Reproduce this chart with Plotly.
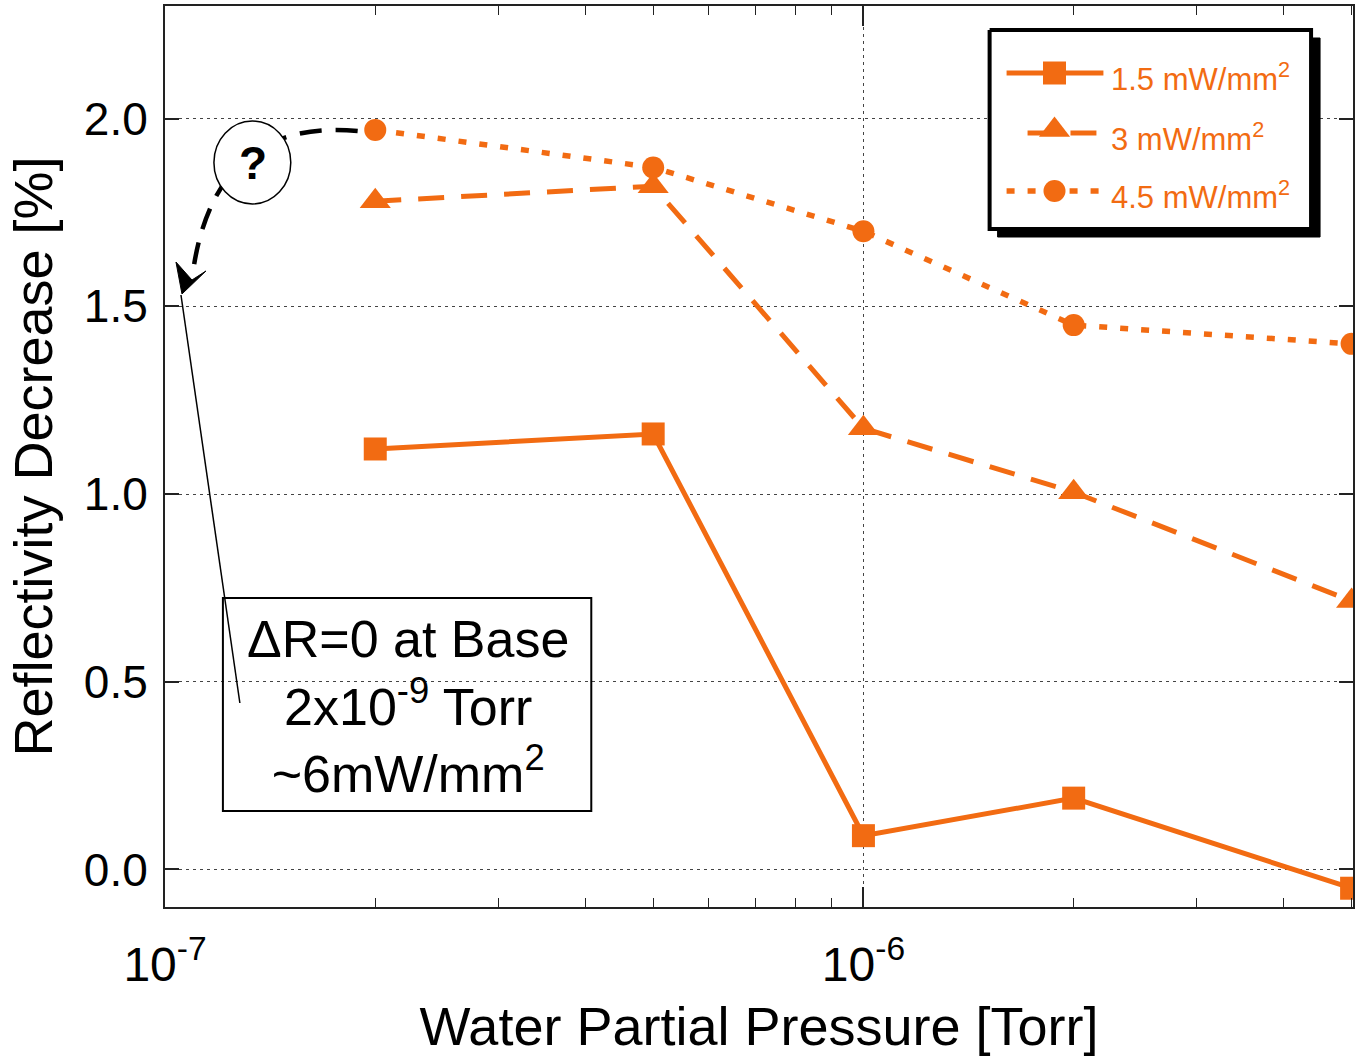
import math
import plotly.graph_objects as go

# ---------------- data ----------------
pressure = [2e-7, 5e-7, 1e-6, 2e-6, 5e-6]            # Torr
r_15 = [1.12, 1.16, 0.09, 0.19, -0.05]               # 1.5 mW/mm^2
r_30 = [1.78, 1.82, 1.175, 1.005, 0.715]             # 3 mW/mm^2
r_45 = [1.97, 1.87, 1.70, 1.45, 1.40]                # 4.5 mW/mm^2
series_names = ["1.5 mW/mm<sup>2</sup>", "3 mW/mm<sup>2</sup>", "4.5 mW/mm<sup>2</sup>"]
x_major = [1e-7, 1e-6]
x_major_text = ["10<sup>-7</sup>", "10<sup>-6</sup>"]
x_minor = [2e-7, 3e-7, 4e-7, 5e-7, 6e-7, 7e-7, 8e-7, 9e-7, 2e-6, 3e-6, 4e-6, 5e-6]
y_ticks = [0.0, 0.5, 1.0, 1.5, 2.0]
y_tick_text = ["0.0", "0.5", "1.0", "1.5", "2.0"]

ORANGE = "#F26B12"
NARROW = "Liberation Sans Narrow, Arial Narrow, Liberation Sans, Arial"
SANS = "Liberation Sans, Arial"

# plot-area pixel geometry (for placing decorations in paper units)
X0, X1, Y0, Y1 = 165, 1355, 907, 6
def px(x):
    return (x - X0) / (X1 - X0)
def py(y):
    return (Y0 - y) / (Y0 - Y1)

styles = [
    dict(dash="solid", symbol="square", size=23, width=5),
    dict(dash="26px,17px", symbol="triangle-up", size=27, width=5),
    dict(dash="8px,13px", symbol="circle", size=22, width=5.5),
]

fig = go.Figure()
for vals, name, st in zip([r_15, r_30, r_45], series_names, styles):
    fig.add_trace(go.Scatter(
        x=pressure, y=vals, name=name, mode="lines+markers",
        line=dict(color=ORANGE, width=st["width"], dash=st["dash"]),
        marker=dict(color=ORANGE, size=st["size"], symbol=st["symbol"], line=dict(width=0)),
        showlegend=False,
    ))

# ---------------- custom legend box (overlay axes in paper units) ----------------
def box(x0, x1, y0, y1):
    return [px(x0), px(x1), px(x1), px(x0), px(x0)], [py(y0), py(y0), py(y1), py(y1), py(y0)]

sx, sy = box(999, 1322, 38, 237)
fig.add_trace(go.Scatter(x=sx, y=sy, xaxis="x2", yaxis="y2", mode="lines", fill="toself",
                         fillcolor="black", line=dict(color="black", width=1),
                         showlegend=False, hoverinfo="skip"))
bx, by = box(991, 1313, 30, 229)
fig.add_trace(go.Scatter(x=bx, y=by, xaxis="x2", yaxis="y2", mode="lines", fill="toself",
                         fillcolor="white", line=dict(color="black", width=4),
                         showlegend=False, hoverinfo="skip"))

rows_y = [73, 133, 191]
seg_x = [[1008, 1105], [1029, 1048, None, 1072, 1098], [1008, 1103]]
for i, st in enumerate(styles):
    xs = [px(v) if v is not None else None for v in seg_x[i]]
    ys = [py(rows_y[i]) if v is not None else None for v in seg_x[i]]
    fig.add_trace(go.Scatter(
        x=xs, y=ys, xaxis="x2", yaxis="y2", mode="lines", showlegend=False,
        line=dict(color=ORANGE, width=st["width"], dash="solid" if i == 1 else st["dash"]),
        hoverinfo="skip",
    ))
    fig.add_trace(go.Scatter(
        x=[px(1056)], y=[py(rows_y[i] - (3 if i == 1 else 0))], xaxis="x2", yaxis="y2",
        mode="markers", showlegend=False,
        marker=dict(color=ORANGE, size=st["size"], symbol=st["symbol"], line=dict(width=0)),
        hoverinfo="skip",
    ))

shapes = []
# dashed curved arrow
curve = "M {:.5f},{:.5f} Q {:.5f},{:.5f} {:.5f},{:.5f}".format(
    px(358), py(131), px(215), py(118), px(193), py(272))
shapes.append(dict(type="path", xref="paper", yref="paper", path=curve,
                   line=dict(color="black", width=4.5, dash="22px,14px"), layer="above"))
# arrowhead
head = "M {:.5f},{:.5f} L {:.5f},{:.5f} L {:.5f},{:.5f} L {:.5f},{:.5f} Z".format(
    px(182), py(294), px(176), py(262), px(192), py(280), px(206), py(271))
shapes.append(dict(type="path", xref="paper", yref="paper", path=head,
                   fillcolor="black", line=dict(color="black", width=1), layer="above"))
# "?" ellipse
shapes.append(dict(type="circle", xref="paper", yref="paper",
                   x0=px(214), x1=px(291), y0=py(121), y1=py(204),
                   fillcolor="white", line=dict(color="black", width=1.5), layer="above"))
# thin pointer line
shapes.append(dict(type="line", xref="paper", yref="paper",
                   x0=px(181), y0=py(295), x1=px(240), y1=py(703),
                   line=dict(color="black", width=1.5), layer="above"))
# text box
shapes.append(dict(type="rect", xref="paper", yref="paper",
                   x0=px(223), x1=px(592), y0=py(598), y1=py(811),
                   fillcolor="rgba(0,0,0,0)", line=dict(color="black", width=2), layer="above"))

annotations = []
annotations.append(dict(xref="paper", yref="paper", x=px(253), y=py(163),
                        text="<b>?</b>", showarrow=False,
                        font=dict(family=SANS, size=46, color="black"),
                        xanchor="center", yanchor="middle"))
annotations.append(dict(xref="paper", yref="paper", x=px(408), y=py(706),
                        text="ΔR=0 at Base<br>2x10<sup>-9</sup> Torr<br>~6mW/mm<sup>2</sup>",
                        showarrow=False, align="center",
                        font=dict(family=SANS, size=52, color="black"),
                        xanchor="center", yanchor="middle"))
for ry, name in zip(rows_y, series_names):
    annotations.append(dict(xref="paper", yref="paper", x=px(1111), y=py(ry + 4),
                            text=name, showarrow=False,
                            font=dict(family=SANS, size=31, color=ORANGE),
                            xanchor="left", yanchor="middle"))

fig.update_layout(
    width=1355, height=1062,
    margin=dict(l=165, r=0, t=6, b=155),
    paper_bgcolor="white", plot_bgcolor="white",
    shapes=shapes, annotations=annotations,
    xaxis=dict(
        type="log", range=[-7, math.log10(5e-6) + 0.002],
        tickmode="array", tickvals=x_major, ticktext=x_major_text,
        ticks="inside", ticklen=20, tickwidth=1.5, tickcolor="#222",
        showline=True, linecolor="#222", linewidth=2, mirror="ticks",
        showgrid=True, gridcolor="#444", gridwidth=1, griddash="3px,4px",
        minor=dict(tickmode="array", tickvals=x_minor, ticks="inside",
                   ticklen=9, tickwidth=1.2, tickcolor="#222", showgrid=False),
        tickfont=dict(family=NARROW, size=48, color="black"),
        ticklabelstandoff=14,
        title=dict(text="Water Partial Pressure [Torr]", standoff=18,
                   font=dict(family=NARROW, size=54, color="black")),
        zeroline=False,
    ),
    yaxis=dict(
        range=[-0.1, 2.3],
        tickmode="array", tickvals=y_ticks, ticktext=y_tick_text,
        ticks="inside", ticklen=14, tickwidth=1.5, tickcolor="#222",
        showline=True, linecolor="#222", linewidth=2, mirror="ticks",
        showgrid=True, gridcolor="#444", gridwidth=1, griddash="3px,4px",
        tickfont=dict(family=SANS, size=46, color="black"),
        ticklabelstandoff=6,
        title=dict(text="Reflectivity Decrease [%]", standoff=14,
                   font=dict(family=NARROW, size=54, color="black")),
        zeroline=False,
    ),
    xaxis2=dict(overlaying="x", range=[0, 1], visible=False, fixedrange=True),
    yaxis2=dict(overlaying="y", range=[0, 1], visible=False, fixedrange=True),
)

fig.write_html("out.html")
